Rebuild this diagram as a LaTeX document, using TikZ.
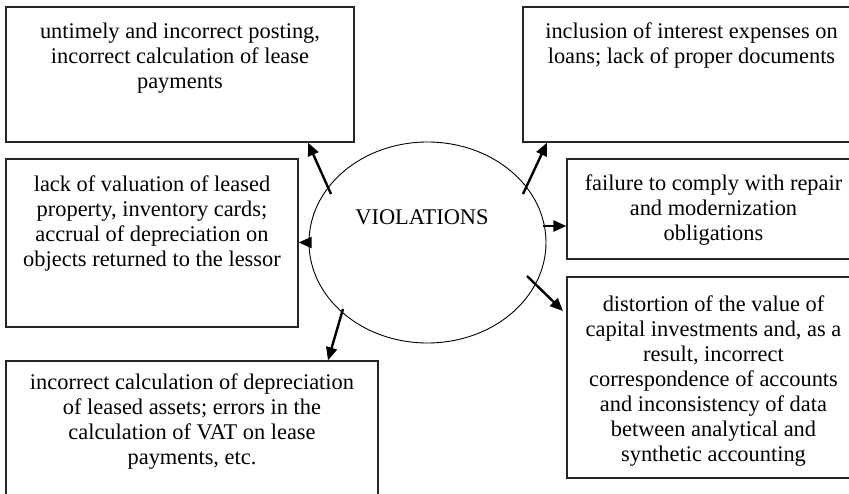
\documentclass[tikz,border=0pt]{standalone}
\usepackage{fontspec}
\setmainfont{Liberation Serif}
\usetikzlibrary{arrows.meta,shapes.geometric}
\newcommand\lblfont{\fontsize{22.4}{25}\selectfont}
\begin{document}
\begin{tikzpicture}[x=1pt,y=-1pt,
  box/.style={draw=black!85, line width=1.3pt, inner sep=0pt},
  txt/.style={anchor=north, inner sep=0pt, align=center, font=\lblfont},
  conn/.style={line width=2.4pt, -{Triangle[length=13pt,width=11pt]}}]
\useasboundingbox (0,0) rectangle (849,494);
\clip (0,0) rectangle (849,494);

% outer boxes
\node[box, minimum width=348pt, minimum height=135pt] (b1) at (180,74.5) {};
\node[box, minimum width=337pt, minimum height=135pt] (b2) at (691.5,74.5) {};
\node[box, minimum width=292pt, minimum height=168pt] (b3) at (152,243) {};
\node[box, minimum width=293pt, minimum height=100pt] (b5) at (713.5,209) {};
\node[box, minimum width=293pt, minimum height=201pt] (b6) at (713.5,377.5) {};
\node[box, minimum width=372pt, minimum height=150pt] (b4) at (192,436) {};

% box texts
\node[txt] (t1) at ([yshift=-14.5pt]b1.north)
  {\strut untimely and incorrect posting,\\incorrect calculation of lease\\payments};
\node[txt] (t2) at ([yshift=-14.5pt]b2.north)
  {\strut inclusion of interest expenses on\\loans; lack of proper documents};
\node[txt] (t3) at ([yshift=-15pt]b3.north)
  {\strut lack of valuation of leased\\property, inventory cards;\\accrual of depreciation on\\objects returned to the lessor};
\node[txt] (t5) at ([yshift=-14.5pt]b5.north)
  {\strut failure to comply with repair\\and modernization\\obligations};
\node[txt] (t6) at ([yshift=-17pt]b6.north)
  {\strut distortion of the value of\\capital investments and, as a\\result, incorrect\\correspondence of accounts\\and inconsistency of data\\between analytical and\\synthetic accounting};
\node[txt] (t4) at ([yshift=-11pt]b4.north)
  {\strut incorrect calculation of depreciation\\of leased assets; errors in the\\calculation of VAT on lease\\payments, etc.};

% central ellipse
\node[draw, line width=0.9pt, ellipse, minimum width=237pt, minimum height=201pt, inner sep=0pt] (v) at (427.5,242.5) {};
\node[font=\lblfont, anchor=base, inner sep=0pt] (vt) at (422,225) {VIOLATIONS};

% arrow start points on the ellipse
\coordinate (s1) at (331,194);
\coordinate (s2) at (523,194);
\coordinate (s5) at (543,226);
\coordinate (s6) at (527,276);
\coordinate (s4) at (343,309);
\coordinate (e1) at (308,0);
\coordinate (e2) at (547,0);
\coordinate (e6) at (563,311);
\coordinate (e4) at (328,0);

\draw[conn] (s1) -- (e1 |- b1.south);
\draw[conn] (s2) -- (e2 |- b2.south);
\draw[conn] (s5) -- (s5 -| b5.west);
\draw[conn] ([xshift=-1pt]v.west) -- (v.west -| b3.east);
\draw[conn] (s6) -- (e6);
\draw[conn] (s4) -- (e4 |- b4.north);
\end{tikzpicture}
\end{document}
